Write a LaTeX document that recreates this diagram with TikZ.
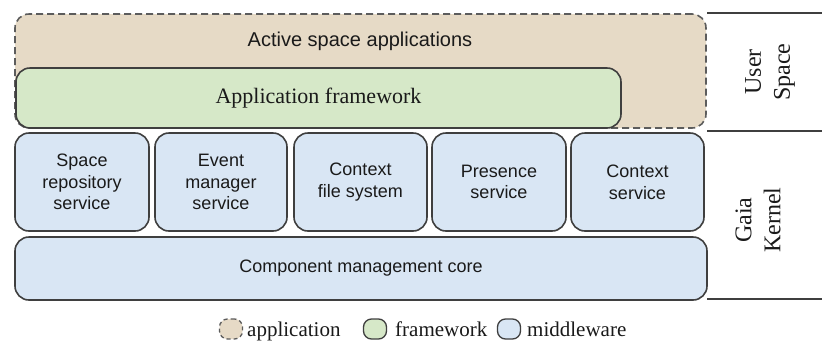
\documentclass[tikz,border=0pt]{standalone}
\usepackage{fontspec}
\setmainfont{Liberation Serif}
\newfontfamily\boxfont{Liberation Sans}
\definecolor{apptan}{HTML}{E6DAC6}
\definecolor{fwgreen}{HTML}{D6E8C8}
\definecolor{mwblue}{HTML}{D9E6F4}
\definecolor{edgegray}{HTML}{3F3F3F}
\definecolor{txt}{HTML}{1A1A1A}
\begin{document}
\begin{tikzpicture}[x=1pt,y=-1pt,
  box/.style={draw=edgegray, line width=1.6pt, rounded corners=14pt, inner sep=0pt, align=center, text=txt},
  appbox/.style={box, fill=apptan, draw=edgegray!85, dash pattern=on 7pt off 4pt},
  fwbox/.style={box, fill=fwgreen, font=\fontsize{22}{26}\selectfont},
  mwbox/.style={box, fill=mwblue, font=\boxfont\fontsize{18}{21.6}\selectfont},
  sideline/.style={draw=edgegray, line width=1.6pt},
  sidelabel/.style={rotate=90, align=center, text=txt, font=\fontsize{24}{29}\selectfont},
  legicon/.style={draw=edgegray, line width=1.3pt, rounded corners=8pt, minimum width=23pt, minimum height=20pt, inner sep=0pt},
  legtext/.style={anchor=base west, text=txt, inner sep=0pt, font=\fontsize{21}{25}\selectfont}]
\fill[white] (0,0) rectangle (822,341);
\path[use as bounding box] (0,0) rectangle (822,341);
% user space
\node[appbox, minimum width=691pt, minimum height=114pt] (app) at (360.5,71) {};
\node[text=txt, font=\boxfont\fontsize{20}{24}\selectfont] (apptext) at (360,41) {Active space applications};
\node[fwbox, minimum width=605pt, minimum height=60pt] (fw) at (318.5,98) {Application framework};
% kernel services
\node[mwbox, minimum width=134pt, minimum height=98pt] (s1) at (82,182) {Space\\repository\\service};
\node[mwbox, minimum width=132pt, minimum height=98pt] (s2) at (221,182) {Event\\manager\\service};
\node[mwbox, minimum width=133pt, minimum height=98pt] (s3) at (360.5,182) {Context\\file system};
\node[mwbox, minimum width=134pt, minimum height=98pt] (s4) at (499,182) {Presence\\service};
\node[mwbox, minimum width=133pt, minimum height=98pt] (s5) at (637.5,182) {Context\\service};
\node[mwbox, minimum width=692pt, minimum height=63pt] (cmc) at (361,268.5) {Component management core};
% side separators
\coordinate (t1) at (707,13);  \coordinate (t2) at (822,13);
\coordinate (m1) at (707,131); \coordinate (m2) at (822,131);
\coordinate (b1) at (707,299); \coordinate (b2) at (822,299);
\draw[sideline] (t1) -- (t2);
\draw[sideline] (m1) -- (m2);
\draw[sideline] (b1) -- (b2);
\node[sidelabel] (us) at (770,72) {User\\Space};
\node[sidelabel] (gk) at (758,220) {Gaia\\Kernel};
% legend
\node[legicon, fill=apptan, draw=edgegray!85, dash pattern=on 4pt off 3pt] (lapp) at (231,329) {};
\node[legtext] (tapp) at (247,336) {application};
\node[legicon, fill=fwgreen] (lfw) at (375,329) {};
\node[legtext] (tfw) at (395,336) {framework};
\node[legicon, fill=mwblue] (lmw) at (509,329) {};
\node[legtext] (tmw) at (527,336) {middleware};
\end{tikzpicture}
\end{document}
